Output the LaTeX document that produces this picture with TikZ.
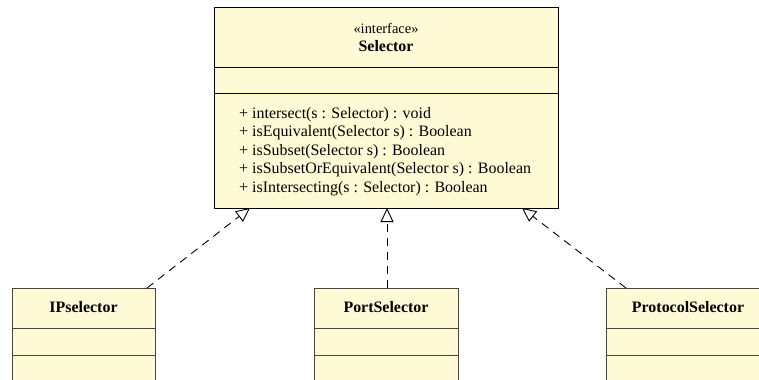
\documentclass[tikz,border=0pt]{standalone}
\usepackage{fontspec}
\setmainfont{Liberation Serif}
\usetikzlibrary{arrows.meta,calc}
\definecolor{umlfill}{RGB}{255,250,214}
\definecolor{umledge}{RGB}{70,70,70}
\begin{document}
\begin{tikzpicture}[x=1bp,y=-1bp,
  font=\fontsize{16}{18.5}\selectfont,
  classbox/.style={draw=black, fill=umlfill, line width=1bp, rectangle, inner sep=0pt, anchor=north west},
  subbox/.style={classbox, draw=umledge, minimum width=#1, minimum height=140bp},
  divider/.style={line width=1bp},
  title/.style={font=\fontsize{16}{18}\selectfont\bfseries, inner sep=0pt},
  op/.style={anchor=base west, inner sep=0pt},
  realize/.style={dash pattern=on 8bp off 6bp, line width=0.9bp,
    -{Triangle[open, length=14bp, width=13bp, line width=0.9bp]}}
]
\useasboundingbox (0,0) rectangle (759,379);
\clip (0,0) rectangle (759,379);

% interface Selector
\node[classbox, minimum width=344bp, minimum height=201bp] (sel) at (214,7) {};
\draw[divider] ($(sel.north west)+(0,60)$) -- ($(sel.north east)+(0,60)$);
\draw[divider] ($(sel.north west)+(0,86)$) -- ($(sel.north east)+(0,86)$);
\node[inner sep=0pt, font=\fontsize{14.5}{16}\selectfont] (stereo) at (386,28) {«interface»};
\node[title] (selname) at (386,46) {Selector};
\node[op] (m1) at (239,118) {+ intersect(s : Selector) : void};
\node[op] (m2) at (239,136.5) {+ isEquivalent(Selector s) : Boolean};
\node[op] (m3) at (239,155) {+ isSubset(Selector s) : Boolean};
\node[op] (m4) at (239,173.5) {+ isSubsetOrEquivalent(Selector s) : Boolean};
\node[op] (m5) at (239,192) {+ isIntersecting(s : Selector) : Boolean};

% implementing classes
\node[subbox=143bp] (ip) at (12,288) {};
\node[subbox=144bp] (port) at (314,288) {};
\node[subbox=164bp] (proto) at (606,288) {};
\foreach \n in {ip,port,proto}{
  \draw[divider, draw=umledge] ($(\n.north west)+(0,40)$) -- ($(\n.north east)+(0,40)$);
  \draw[divider, draw=umledge] ($(\n.north west)+(0,67)$) -- ($(\n.north east)+(0,67)$);
}
\node[title] (ipname) at (83.5,307) {IPselector};
\node[title] (portname) at (386,307) {PortSelector};
\node[title] (protoname) at (688,307) {ProtocolSelector};

% realizations
\coordinate (ipS) at (147,288);
\coordinate (ipT) at (250,208);
\coordinate (portS) at (387,288);
\coordinate (portT) at (387,208);
\coordinate (protoS) at (626,288);
\coordinate (protoT) at (522,208);
\draw[realize] (ipS) -- (ipT);
\draw[realize] (portS) -- (portT);
\draw[realize] (protoS) -- (protoT);
\end{tikzpicture}
\end{document}
